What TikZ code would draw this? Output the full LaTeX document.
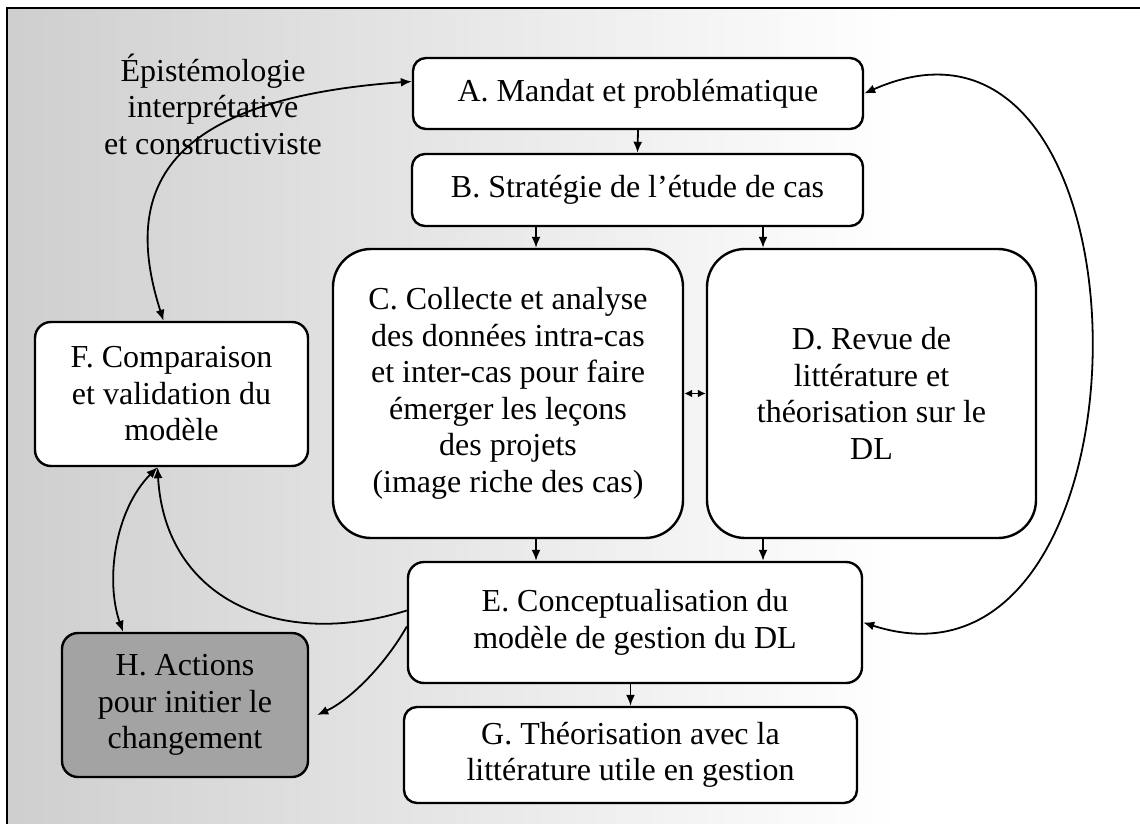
\documentclass[tikz,border=0pt]{standalone}
\usepackage{fontspec}
\setmainfont{Liberation Serif}
\usetikzlibrary{arrows.meta}
\begin{document}
\begin{tikzpicture}[x=0.5pt,y=-0.5pt,
  txt/.style={align=center, inner sep=0pt, font=\fontsize{16}{18.25}\selectfont},
  box/.style={txt, draw, line width=1.2pt, fill=white, rounded corners=6.5pt},
  bigbox/.style={box, rounded corners=19pt},
  conn/.style={line width=0.9pt, -{Latex[length=5.5pt,width=4.5pt]}},
  biconn/.style={line width=0.9pt, {Latex[length=5.5pt,width=4.5pt]}-{Latex[length=5.5pt,width=4.5pt]}}]
\useasboundingbox (0,0) rectangle (1140,824);
% background and frame
\shade[left color=black!19, middle color=black!13, right color=white] (7,8) rectangle (900,824);
\draw[line width=1.3pt] (7,824) -- (7,8) -- (1140,8);

% steps
\node[box, minimum width=225pt, minimum height=35.5pt] (A) at (638,93.5) {A. Mandat et problématique};
\node[box, minimum width=225.5pt, minimum height=36pt] (B) at (637.5,190) {B. Stratégie de l’étude de cas};
\node[bigbox, minimum width=175pt, minimum height=144.5pt] (C) at (508,393.5)
  {C. Collecte et analyse\\des données intra-cas\\et inter-cas pour faire\\émerger les leçons\\des projets\\(image riche des cas)};
\node[bigbox, minimum width=164.5pt, minimum height=144.5pt] (D) at (871.5,393.5)
  {D. Revue de\\littérature et\\théorisation sur le\\DL};
\node[box, rounded corners=8pt, minimum width=227pt, minimum height=60.5pt] (E) at (635,622.5)
  {E. Conceptualisation du\\modèle de gestion du DL};
\node[box, minimum width=226.5pt, minimum height=48pt] (G) at (630.5,755)
  {G. Théorisation avec la\\littérature utile en gestion};
\node[box, rounded corners=8pt, minimum width=136.5pt, minimum height=72pt] (F) at (171.5,394)
  {F. Comparaison\\et validation du\\modèle};
\node[box, rounded corners=8pt, fill=black!36, minimum width=123pt, minimum height=72pt] (H) at (185,705)
  {H. Actions\\pour initier le\\changement};
\node[txt] (epi) at (213,104) {Épistémologie\\interprétative\\et constructiviste};

% columns of the vertical arrows
\coordinate (xl) at (536,0);
\coordinate (xr) at (763,0);

% straight arrows
\draw[conn] (A.south) -- (B.north);
\draw[conn] (B.south -| xl) -- (C.north -| xl);
\draw[conn] (B.south -| xr) -- (D.north -| xr);
\draw[conn] (C.south -| xl) -- (E.north -| xl);
\draw[conn] (D.south -| xr) -- (E.north -| xr);
\draw[conn] (E.south -| G.north) -- (G.north);
\draw[line width=0.9pt, {Latex[length=4pt,width=4pt]}-{Latex[length=4pt,width=4pt]}] (C.east) -- (D.west);

% curved arrows
\draw[biconn] (E.east) .. controls (1166,720) and (1166,-40) .. (A.east);
\draw[biconn] ([xshift=-4pt]F.north) .. controls (125,200) and (150,100) .. ([yshift=6pt]A.west);
\draw[biconn] ([xshift=-7pt]F.south) .. controls (115,510) and (105,580) .. ([xshift=-31pt]H.north);
\draw[conn] ([yshift=6pt]E.west) .. controls (280,650) and (165,600) .. ([xshift=-7pt]F.south);
\draw[conn] ([yshift=-2pt]E.west) .. controls (385,665) and (350,700) .. ([xshift=4pt,yshift=-5pt]H.east);
\end{tikzpicture}
\end{document}
